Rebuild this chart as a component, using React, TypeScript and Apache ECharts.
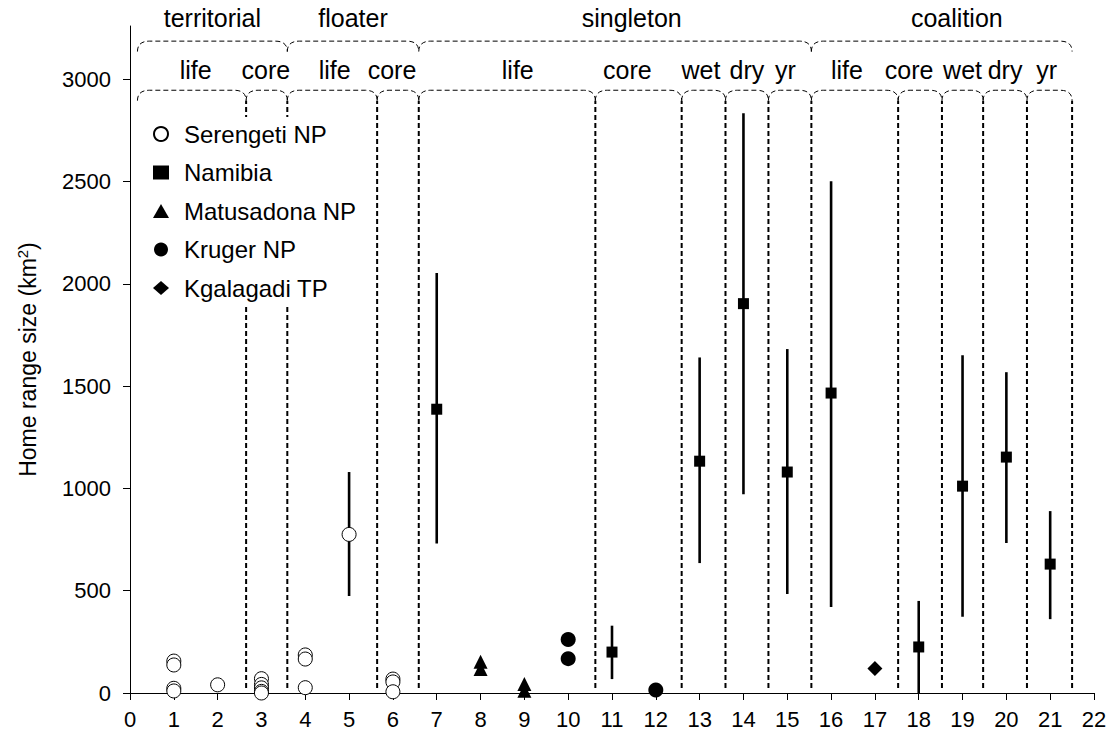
import React, { useEffect, useRef } from 'react';
import * as echarts from 'echarts';

// ---- data ----
const yTickValues = [0, 500, 1000, 1500, 2000, 2500, 3000];

const serengeti = [
  [1, 156], [1, 137], [1, 23], [1, 10],
  [2, 40],
  [3, 70], [3, 42], [3, 25], [3, 8], [3, 0],
  [4, 186], [4, 166], [4, 26],
  [5, 775],
  [6, 68], [6, 54], [6, 6],
];
const serengetiErr = [
  [2, 25, 55],
  [5, 474, 1080],
];
const namibia = [
  [7, 1387], [11, 200], [13, 1133], [14, 1903], [15, 1080],
  [16, 1466], [18, 225], [19, 1011], [20, 1153], [21, 630],
];
const namibiaErr = [
  [7, 731, 2053], [11, 68, 329], [13, 635, 1640], [14, 972, 2833], [15, 484, 1681],
  [16, 420, 2501], [18, 0, 450], [19, 373, 1651], [20, 733, 1568], [21, 361, 889],
];
const matusadona = [[8, 153], [8, 117], [9, 44], [9, 11]];
const kruger = [[10, 262], [10, 168], [12, 15]];
const kgalagadi = [[17, 120]];

const groupLabels = ['territorial', 'floater', 'singleton', 'coalition'];
const groupSpans = [[0.17, 3.59], [3.59, 6.59], [6.59, 15.55], [15.55, 21.5]];
const groupLabelX = [1.88, 5.09, 11.45, 18.87];

const subLabels = ['life', 'core', 'life', 'core', 'life', 'core', 'wet', 'dry', 'yr', 'life', 'core', 'wet', 'dry', 'yr'];
const subLabelX = [1.5, 3.1, 4.67, 5.98, 8.85, 11.35, 13.03, 14.08, 14.96, 16.36, 17.78, 19.0, 19.97, 20.92];
const subBounds = [0.17, 2.65, 3.59, 5.64, 6.59, 10.62, 12.59, 13.59, 14.57, 15.55, 17.53, 18.53, 19.47, 20.47, 21.5];
const separators = subBounds.slice(1);

// vertical levels (data units on the y scale)
const groupTextY = 3300;
const upperBraceY = 3186;
const upperBraceEndY = 3135;
const subTextY = 3045;
const lowerBraceY = 2946;
const lowerBraceEndY = 2895;
const sepBottomY = 25;

const FONT = "'Liberation Sans', Arial, sans-serif";

function braceItem(api: any, x0: number, x1: number, yTop: number, yEnd: number) {
  const p0 = api.coord([x0, yEnd]);
  const p1 = api.coord([x1, yEnd]);
  const top = api.coord([x0, yTop])[1];
  const r = 12;
  const d = `M ${p0[0]} ${p0[1]} Q ${p0[0]} ${top} ${p0[0] + r} ${top} L ${p1[0] - r} ${top} Q ${p1[0]} ${top} ${p1[0]} ${p1[1]}`;
  return {
    type: 'path',
    shape: { pathData: d },
    style: { fill: 'none', stroke: '#000', lineWidth: 1, lineDash: [5, 3] },
  };
}

export default function App() {
  const ref = useRef<HTMLDivElement>(null);
  useEffect(() => {
    if (!ref.current) return;
    const chart = echarts.init(ref.current, undefined, { renderer: 'svg' });

    const upperData = groupSpans.map((s, i) => [s[0], s[1], groupLabelX[i], i]);
    const lowerData = subLabels.map((_, i) => [subBounds[i], subBounds[i + 1], subLabelX[i], i]);
    const sepData = separators.map((x) => [x, sepBottomY, lowerBraceEndY]);

    const errRender = (params: any, api: any) => {
      const x = api.value(0);
      const lo = api.coord([x, api.value(1)]);
      const hi = api.coord([x, api.value(2)]);
      return {
        type: 'line',
        shape: { x1: lo[0], y1: lo[1], x2: hi[0], y2: hi[1] },
        style: { stroke: '#000', lineWidth: 2.6 },
      };
    };

    const option: any = {
      animation: false,
      backgroundColor: '#fff',
      textStyle: { fontFamily: FONT, color: '#000' },
      grid: { left: 130, right: 22, top: 26, bottom: 56, containLabel: false },
      xAxis: {
        type: 'value',
        min: 0,
        max: 22,
        interval: 1,
        splitLine: { show: false },
        axisLine: { onZero: false, lineStyle: { color: '#000', width: 1 } },
        axisTick: { show: true, inside: false, length: 7, lineStyle: { color: '#000' } },
        axisLabel: { color: '#000', fontSize: 22, fontFamily: FONT, margin: 15 },
      },
      yAxis: {
        type: 'value',
        min: 0,
        max: 3260,
        interval: 500,
        name: 'Home range size (km{sup|2})',
        nameLocation: 'middle',
        nameGap: 90,
        nameTextStyle: {
          color: '#000',
          fontSize: 23,
          fontFamily: FONT,
          rich: { sup: { fontSize: 15, verticalAlign: 'top', fontFamily: FONT, color: '#000', padding: [0, 0, 10, 0] } },
        },
        splitLine: { show: false },
        axisLine: { show: true, lineStyle: { color: '#000', width: 1 } },
        axisTick: { show: true, length: 7, lineStyle: { color: '#000' }, customValues: yTickValues },
        axisLabel: {
          color: '#000', fontSize: 22, fontFamily: FONT, margin: 19, customValues: yTickValues,
          formatter: (v: number) => String(v),
        },
      },
      legend: {
        data: ['Serengeti NP', 'Namibia', 'Matusadona NP', 'Kruger NP', 'Kgalagadi TP'],
        orient: 'vertical',
        left: 147,
        top: 117,
        padding: [5, 6, 5, 6],
        backgroundColor: '#fff',
        itemWidth: 16,
        itemHeight: 14,
        itemGap: 14.5,
        textStyle: { fontSize: 24, fontFamily: FONT, color: '#000', lineHeight: 24, padding: [0, 0, 0, 10] },
        z: 10,
      },
      series: [
        {
          name: 'separators',
          type: 'custom',
          clip: false,
          silent: true,
          z: 1,
          encode: { x: 0, y: [1, 2] },
          data: sepData,
          renderItem: (params: any, api: any) => {
            const x = api.value(0);
            const a = api.coord([x, api.value(1)]);
            const b = api.coord([x, api.value(2)]);
            return {
              type: 'line',
              shape: { x1: a[0], y1: a[1], x2: b[0], y2: b[1] },
              style: { stroke: '#000', lineWidth: 2, lineDash: [5, 3] },
            };
          },
        },
        {
          name: 'upper',
          type: 'custom',
          clip: false,
          silent: true,
          z: 1,
          encode: { x: [0, 1], y: [] },
          data: upperData,
          renderItem: (params: any, api: any) => {
            const i = api.value(3);
            const tx = api.coord([api.value(2), groupTextY]);
            return {
              type: 'group',
              children: [
                braceItem(api, api.value(0), api.value(1), upperBraceY, upperBraceEndY),
                {
                  type: 'text',
                  style: {
                    text: groupLabels[i], x: tx[0], y: tx[1], align: 'center', verticalAlign: 'middle',
                    fontSize: 25, fontFamily: FONT, fill: '#000',
                  },
                },
              ],
            };
          },
        },
        {
          name: 'lower',
          type: 'custom',
          clip: false,
          silent: true,
          z: 1,
          encode: { x: [0, 1], y: [] },
          data: lowerData,
          renderItem: (params: any, api: any) => {
            const i = api.value(3);
            const tx = api.coord([api.value(2), subTextY]);
            return {
              type: 'group',
              children: [
                braceItem(api, api.value(0), api.value(1), lowerBraceY, lowerBraceEndY),
                {
                  type: 'text',
                  style: {
                    text: subLabels[i], x: tx[0], y: tx[1], align: 'center', verticalAlign: 'middle',
                    fontSize: 25, fontFamily: FONT, fill: '#000',
                  },
                },
              ],
            };
          },
        },
        {
          name: 'serengetiErr',
          type: 'custom',
          z: 2,
          encode: { x: 0, y: [1, 2] },
          data: serengetiErr,
          renderItem: errRender,
        },
        {
          name: 'namibiaErr',
          type: 'custom',
          z: 2,
          encode: { x: 0, y: [1, 2] },
          data: namibiaErr,
          renderItem: errRender,
        },
        {
          name: 'Serengeti NP',
          type: 'scatter',
          z: 3,
          symbol: 'circle',
          symbolSize: 14,
          itemStyle: { color: '#fff', borderColor: '#000', borderWidth: 1, opacity: 1 },
          data: serengeti,
        },
        {
          name: 'Namibia',
          type: 'scatter',
          z: 3,
          symbol: 'rect',
          symbolSize: 11,
          itemStyle: { color: '#000', opacity: 1 },
          data: namibia,
        },
        {
          name: 'Matusadona NP',
          type: 'scatter',
          z: 3,
          symbol: 'triangle',
          symbolSize: 14,
          itemStyle: { color: '#000', opacity: 1 },
          data: matusadona,
        },
        {
          name: 'Kruger NP',
          type: 'scatter',
          z: 3,
          symbol: 'circle',
          symbolSize: 15,
          itemStyle: { color: '#000', opacity: 1 },
          data: kruger,
        },
        {
          name: 'Kgalagadi TP',
          type: 'scatter',
          z: 3,
          symbol: 'diamond',
          symbolSize: 15,
          itemStyle: { color: '#000', opacity: 1 },
          data: kgalagadi,
        },
      ],
    };
    chart.setOption(option);
    return () => chart.dispose();
  }, []);
  return (
    <div
      ref={ref}
      style={{ position: 'fixed', left: 0, top: 0, width: 1116, height: 749, background: '#fff' }}
    />
  );
}
